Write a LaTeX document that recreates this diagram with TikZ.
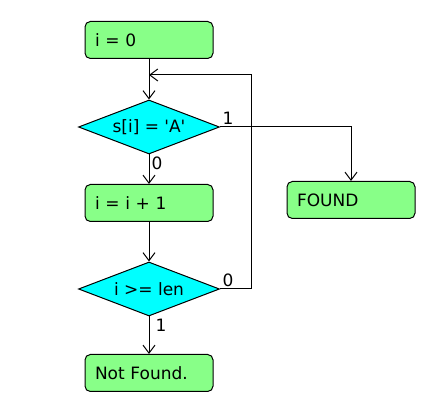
\documentclass[tikz,border=0pt]{standalone}
\usepackage{fontspec}
\setmainfont{DejaVu Sans}[Ligatures=TeXOff]
\usetikzlibrary{shapes.geometric,arrows.meta}
\definecolor{boxgreen}{RGB}{136,255,136}
\definecolor{testcyan}{RGB}{0,255,255}

\begin{document}
\begin{tikzpicture}[x=0.75pt, y=-0.75pt, line width=0.75pt,
    font=\fontsize{12.75}{15}\selectfont,
    >={Straight Barb[length=6pt,width=9pt]},
    block/.style={draw, rectangle, rounded corners=4pt, fill=boxgreen,
        minimum height=27.75pt, text width=81pt, inner xsep=7.5pt, align=left},
    decision/.style={draw, diamond, shape aspect=2.6, fill=testcyan,
        minimum width=105.75pt, minimum height=40.5pt, inner sep=0pt},
    lbl/.style={inner sep=1.5pt}]

    \useasboundingbox (0,0) rectangle (433,402);

    \node [block] (start) at (149,40) {i = 0};
    \node [decision] (test) at (149,127) {s[i] = 'A'};
    \node [block] (incr) at (149,203) {i = i + 1};
    \node [decision] (check) at (149,289) {i >= len};
    \node [block] (found) at (351,200) {FOUND};
    \node [block] (notfound) at (149,373) {Not Found.};

    \coordinate (back) at (149,75);
    \coordinate (corner) at (251,75);

    \draw [->] (start) -- (test);
    \draw [->] (test.east) node [lbl, anchor=south west] {1} -| (found.north);
    \draw [->] (test) -- (incr) node [lbl, pos=0, anchor=north west] {0};
    \draw [->] (incr) -- (check);
    \draw [->] (check.east) node [lbl, anchor=south west] {0} -| (corner) -- (back);
    \draw [->] (check) -- (notfound) node [lbl, pos=0, anchor=north west, xshift=3pt] {1};

\end{tikzpicture}
\end{document}
